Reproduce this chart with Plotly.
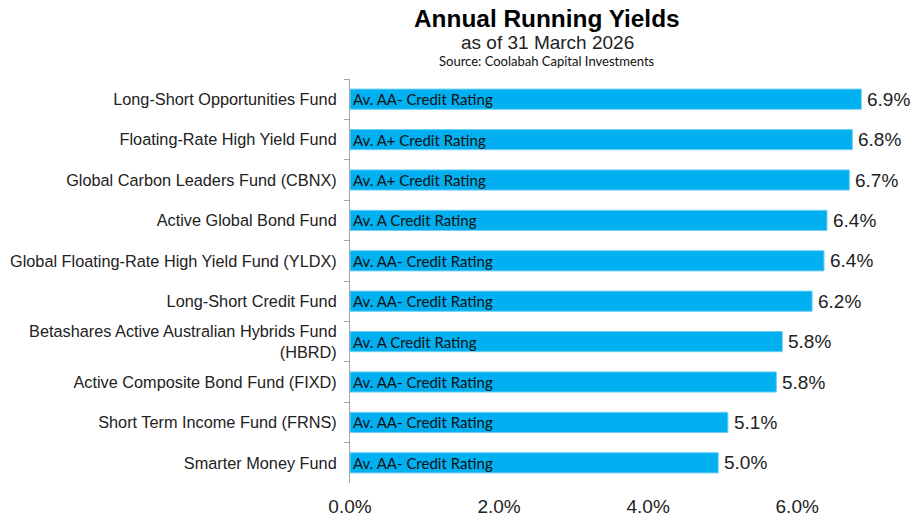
import plotly.graph_objects as go

funds = [
    "Long-Short Opportunities Fund",
    "Floating-Rate High Yield Fund",
    "Global Carbon Leaders Fund (CBNX)",
    "Active Global Bond Fund",
    "Global Floating-Rate High Yield Fund (YLDX)",
    "Long-Short Credit Fund",
    "Betashares Active Australian Hybrids Fund<br>(HBRD)",
    "Active Composite Bond Fund (FIXD)",
    "Short Term Income Fund (FRNS)",
    "Smarter Money Fund",
]
yields = [6.86, 6.74, 6.70, 6.40, 6.36, 6.20, 5.80, 5.72, 5.07, 4.94]
yield_labels = ["6.9%", "6.8%", "6.7%", "6.4%", "6.4%", "6.2%", "5.8%", "5.8%", "5.1%", "5.0%"]
ratings = [
    "Av. AA- Credit Rating",
    "Av. A+ Credit Rating",
    "Av. A+ Credit Rating",
    "Av. A Credit Rating",
    "Av. AA- Credit Rating",
    "Av. AA- Credit Rating",
    "Av. A Credit Rating",
    "Av. AA- Credit Rating",
    "Av. AA- Credit Rating",
    "Av. AA- Credit Rating",
]
x_ticks = [0, 2, 4, 6]
x_tick_text = ["0.0%", "2.0%", "4.0%", "6.0%"]

W, H = 914, 521
ML, MR, MT, MB = 350, 5, 79, 38
pw = W - ML - MR
ph = H - MT - MB

fig = go.Figure()
fig.add_trace(go.Bar(
    y=funds, x=yields, orientation="h",
    marker=dict(color="#00B0F0", line=dict(color="#6FCFF5", width=1)),
    width=0.5,
    text=ratings, textposition="inside", insidetextanchor="start",
    constraintext="none",
    textfont=dict(family="Lato, Noto Sans, sans-serif", size=15, color="#111111"),
    hoverinfo="skip",
))

annotations = []
for f, v, lab in zip(funds, yields, yield_labels):
    annotations.append(dict(
        x=v, y=f, xref="x", yref="y", text=lab, showarrow=False,
        xanchor="left", yanchor="middle", xshift=4,
        font=dict(family="Liberation Sans, Arial, sans-serif", size=19, color="#222222"),
    ))

def px_ann(text, px, py, size, family=None, color="#000000"):
    font = dict(size=size, color=color)
    if family:
        font["family"] = family
    return dict(text=text, xref="paper", yref="paper",
                x=(px - ML) / pw, y=1 - (py - MT) / ph,
                xanchor="center", yanchor="middle", showarrow=False, font=font)

annotations += [
    px_ann("<b>Annual Running Yields</b>", 547, 18, 24.4),
    px_ann("as of 31 March 2026", 547, 43, 19, color="#222222"),
    px_ann("Source: Coolabah Capital Investments", 547, 61, 13,
           family="Lato, Noto Sans, sans-serif", color="#111111"),
]

fig.update_layout(
    width=W, height=H,
    margin=dict(l=ML, r=MR, t=MT, b=MB),
    paper_bgcolor="white", plot_bgcolor="white",
    showlegend=False,
    font=dict(family="Liberation Sans, Arial, sans-serif", color="#333333"),
    annotations=annotations,
)

fig.update_xaxes(
    range=[0, 7.5], tickvals=x_ticks, ticktext=x_tick_text,
    showgrid=False, zeroline=False, showline=False, automargin=False,
    tickfont=dict(size=19, color="#222222"), ticks="", ticklabelstandoff=10,
)
fig.update_yaxes(
    autorange="reversed", showgrid=False, zeroline=False, automargin=False,
    showline=True, linecolor="#A6A6A6", linewidth=1,
    ticks="outside", tickson="boundaries", ticklen=5, tickcolor="#A6A6A6",
    tickfont=dict(size=16.3, color="#222222"), ticklabelstandoff=9,
)

fig.write_html(
    "out.html",
    config={"displayModeBar": False},
    post_script="document.body.style.margin='0';"
                "document.documentElement.style.overflow='hidden';",
)
